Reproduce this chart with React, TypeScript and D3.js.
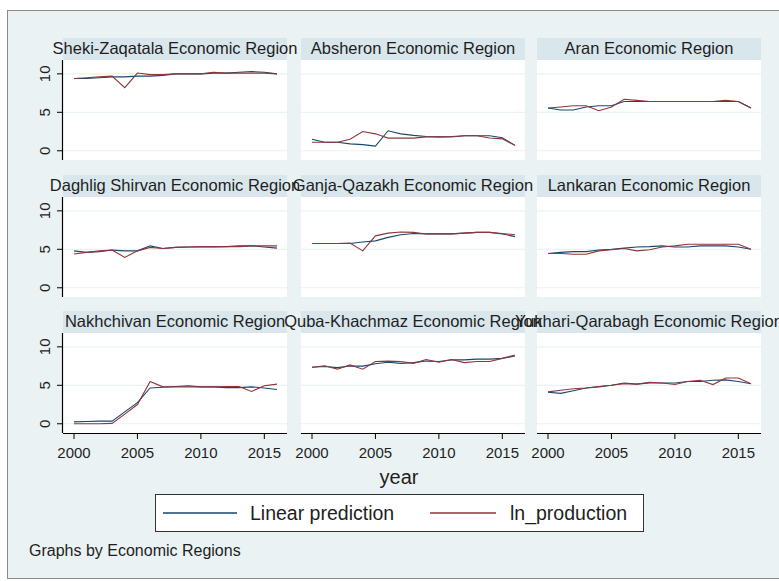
import React from "react";
import * as d3 from "d3";

const years = d3.range(2000, 2017);
const regions = [
  "Sheki-Zaqatala Economic Region",
  "Absheron Economic Region",
  "Aran Economic Region",
  "Daghlig Shirvan Economic Region",
  "Ganja-Qazakh Economic Region",
  "Lankaran Economic Region",
  "Nakhchivan Economic Region",
  "Quba-Khachmaz Economic Region",
  "Yukhari-Qarabagh Economic Region",
];
const linearPrediction = [
  [9.4, 9.4, 9.5, 9.6, 9.6, 9.7, 9.7, 9.8, 10.0, 10.0, 10.0, 10.1, 10.1, 10.2, 10.3, 10.2, 10.0],
  [1.5, 1.1, 1.1, 0.9, 0.8, 0.6, 2.6, 2.2, 2.0, 1.85, 1.8, 1.8, 1.95, 1.95, 1.95, 1.7, 0.7],
  [5.55, 5.3, 5.3, 5.7, 5.85, 5.85, 6.4, 6.4, 6.4, 6.4, 6.4, 6.4, 6.4, 6.4, 6.4, 6.4, 5.55],
  [4.8, 4.6, 4.7, 4.9, 4.8, 4.8, 5.45, 5.1, 5.25, 5.3, 5.3, 5.3, 5.35, 5.45, 5.45, 5.3, 5.15],
  [5.75, 5.75, 5.75, 5.75, 5.95, 6.1, 6.55, 6.9, 7.05, 7.0, 7.0, 7.0, 7.1, 7.2, 7.2, 7.0, 6.65],
  [4.45, 4.6, 4.7, 4.7, 4.9, 5.0, 5.15, 5.3, 5.35, 5.45, 5.3, 5.3, 5.45, 5.45, 5.45, 5.3, 5.0],
  [0.25, 0.3, 0.35, 0.35, 1.55, 2.75, 4.65, 4.75, 4.85, 4.95, 4.8, 4.8, 4.7, 4.7, 4.8, 4.65, 4.45],
  [7.35, 7.45, 7.3, 7.5, 7.5, 7.8, 8.0, 7.85, 7.95, 8.15, 8.1, 8.3, 8.3, 8.4, 8.4, 8.5, 8.8],
  [4.1, 3.95, 4.3, 4.65, 4.8, 5.0, 5.3, 5.15, 5.3, 5.3, 5.3, 5.5, 5.5, 5.65, 5.7, 5.5, 5.2],
];
const lnProduction = [
  [9.4, 9.5, 9.6, 9.7, 8.2, 10.1, 9.9, 9.9, 10.0, 10.0, 10.0, 10.2, 10.1, 10.1, 10.1, 10.1, 10.0],
  [1.1, 1.1, 1.1, 1.5, 2.5, 2.2, 1.65, 1.65, 1.65, 1.8, 1.8, 1.85, 1.95, 1.95, 1.65, 1.55, 0.7],
  [5.55, 5.7, 5.85, 5.85, 5.2, 5.7, 6.7, 6.55, 6.4, 6.4, 6.4, 6.4, 6.4, 6.4, 6.55, 6.4, 5.55],
  [4.4, 4.6, 4.8, 4.9, 3.95, 4.8, 5.25, 5.1, 5.25, 5.3, 5.35, 5.35, 5.35, 5.35, 5.45, 5.45, 5.45],
  [5.75, 5.75, 5.75, 5.8, 4.8, 6.75, 7.1, 7.25, 7.2, 7.0, 7.0, 7.0, 7.1, 7.2, 7.2, 7.05, 6.9],
  [4.45, 4.45, 4.35, 4.35, 4.8, 4.95, 5.1, 4.8, 4.95, 5.3, 5.45, 5.65, 5.65, 5.65, 5.65, 5.65, 5.0],
  [0.0, 0.0, 0.0, 0.05, 1.25, 2.5, 5.5, 4.8, 4.8, 4.8, 4.8, 4.8, 4.85, 4.85, 4.2, 4.95, 5.15],
  [7.35, 7.55, 7.1, 7.65, 7.1, 8.1, 8.15, 8.1, 7.85, 8.35, 8.0, 8.35, 7.95, 8.1, 8.1, 8.5, 8.95],
  [4.15, 4.35, 4.55, 4.65, 4.85, 5.0, 5.2, 5.15, 5.4, 5.3, 5.1, 5.5, 5.65, 5.1, 5.95, 5.95, 5.2],
];
const yTicks = [0, 5, 10];
const xTicks = [2000, 2005, 2010, 2015];
const seriesNames = ["Linear prediction", "ln_production"];
const noteText = "Graphs by Economic Regions";
const xTitle = "year";

const BLUE = "#1a476f";
const RED = "#90353b";
const BG = "#eaf2f3";
const STRIP = "#d9e6eb";
const FONT = "'Liberation Sans', Arial, sans-serif";

const colLeft = [63, 301, 537];
const colWidth = 224;
const rowTop = [60, 197, 333];
const rowHeight = 100;

export default function App() {
  const line = (xs: d3.ScaleLinear<number, number>, ys: d3.ScaleLinear<number, number>) =>
    d3
      .line<number>()
      .x((_, i) => xs(years[i]))
      .y((v) => ys(v));

  const panels = regions.map((name, i) => {
    const c = i % 3;
    const r = Math.floor(i / 3);
    const left = colLeft[c];
    const top = rowTop[r];
    const xs = d3.scaleLinear().domain([2000, 2016]).range([left + 11, left + 214]);
    const ys = d3.scaleLinear().domain([-1.2, 11.8]).range([top + rowHeight, top]);
    return { name, c, r, left, top, xs, ys, i };
  });

  return (
    <svg
      width={779}
      height={581}
      style={{ position: "absolute", left: 0, top: 0, display: "block" }}
      fontFamily={FONT}
    >
      <rect x={0} y={0} width={779} height={581} fill="#ffffff" />
      <rect x={7.5} y={10.5} width={800} height={568} fill={BG} stroke="#8a8a8a" strokeWidth={1} />

      {panels.map((p) => (
        <g key={"bg" + p.i}>
          <rect x={p.left} y={p.top - 22} width={colWidth} height={22} fill={STRIP} />
          <rect x={p.left} y={p.top} width={colWidth} height={rowHeight} fill="#ffffff" />
          {yTicks.map((t) => (
            <line
              key={t}
              x1={p.left}
              x2={p.left + colWidth}
              y1={p.ys(t)}
              y2={p.ys(t)}
              stroke={BG}
              strokeWidth={1.2}
            />
          ))}
        </g>
      ))}

      {panels.map((p) => (
        <g key={"ln" + p.i}>
          <path
            d={line(p.xs, p.ys)(linearPrediction[p.i]) || ""}
            fill="none"
            stroke={BLUE}
            strokeWidth={1.1}
          />
          <path
            d={line(p.xs, p.ys)(lnProduction[p.i]) || ""}
            fill="none"
            stroke={RED}
            strokeWidth={1.1}
          />
        </g>
      ))}

      {panels.map((p) => (
        <text
          key={"t" + p.i}
          x={p.left + colWidth / 2}
          y={p.top - 6}
          textAnchor="middle"
          fontSize={16.5}
          fill="#1e1e1e"
        >
          {p.name}
        </text>
      ))}

      {/* y axes on left column */}
      {panels
        .filter((p) => p.c === 0)
        .map((p) => (
          <g key={"ya" + p.i}>
            <line x1={p.left - 0.5} x2={p.left - 0.5} y1={p.top} y2={p.top + rowHeight} stroke="#000" strokeWidth={1.2} />
            {yTicks.map((t) => (
              <g key={t}>
                <line x1={p.left - 6} x2={p.left} y1={p.ys(t)} y2={p.ys(t)} stroke="#000" strokeWidth={1} />
                <text
                  transform={`translate(${p.left - 13},${p.ys(t)}) rotate(-90)`}
                  textAnchor="middle"
                  fontSize={15}
                  fill="#1e1e1e"
                >
                  {t}
                </text>
              </g>
            ))}
          </g>
        ))}

      {/* x axes on bottom row */}
      {panels
        .filter((p) => p.r === 2)
        .map((p) => (
          <g key={"xa" + p.i}>
            <line x1={p.left} x2={p.left + colWidth} y1={p.top + rowHeight + 0.5} y2={p.top + rowHeight + 0.5} stroke="#000" strokeWidth={1.2} />
            {xTicks.map((t) => (
              <g key={t}>
                <line x1={p.xs(t)} x2={p.xs(t)} y1={p.top + rowHeight} y2={p.top + rowHeight + 6} stroke="#000" strokeWidth={1} />
                <text x={p.xs(t)} y={p.top + rowHeight + 25} textAnchor="middle" fontSize={15} fill="#1e1e1e">
                  {t}
                </text>
              </g>
            ))}
          </g>
        ))}

      <text x={399} y={484} textAnchor="middle" fontSize={20} fill="#1e1e1e">
        {xTitle}
      </text>

      <rect x={155.5} y={494.5} width={488} height={37} fill="#ffffff" stroke="#333" strokeWidth={1} />
      <line x1={163} x2={237} y1={513} y2={513} stroke={BLUE} strokeWidth={1.3} />
      <text x={250} y={520} fontSize={19.5} fill="#1e1e1e">
        {seriesNames[0]}
      </text>
      <line x1={430} x2={496} y1={513} y2={513} stroke={RED} strokeWidth={1.3} />
      <text x={510} y={520} fontSize={19.5} fill="#1e1e1e">
        {seriesNames[1]}
      </text>

      <text x={29} y={556} fontSize={16} fill="#1e1e1e">
        {noteText}
      </text>
    </svg>
  );
}
